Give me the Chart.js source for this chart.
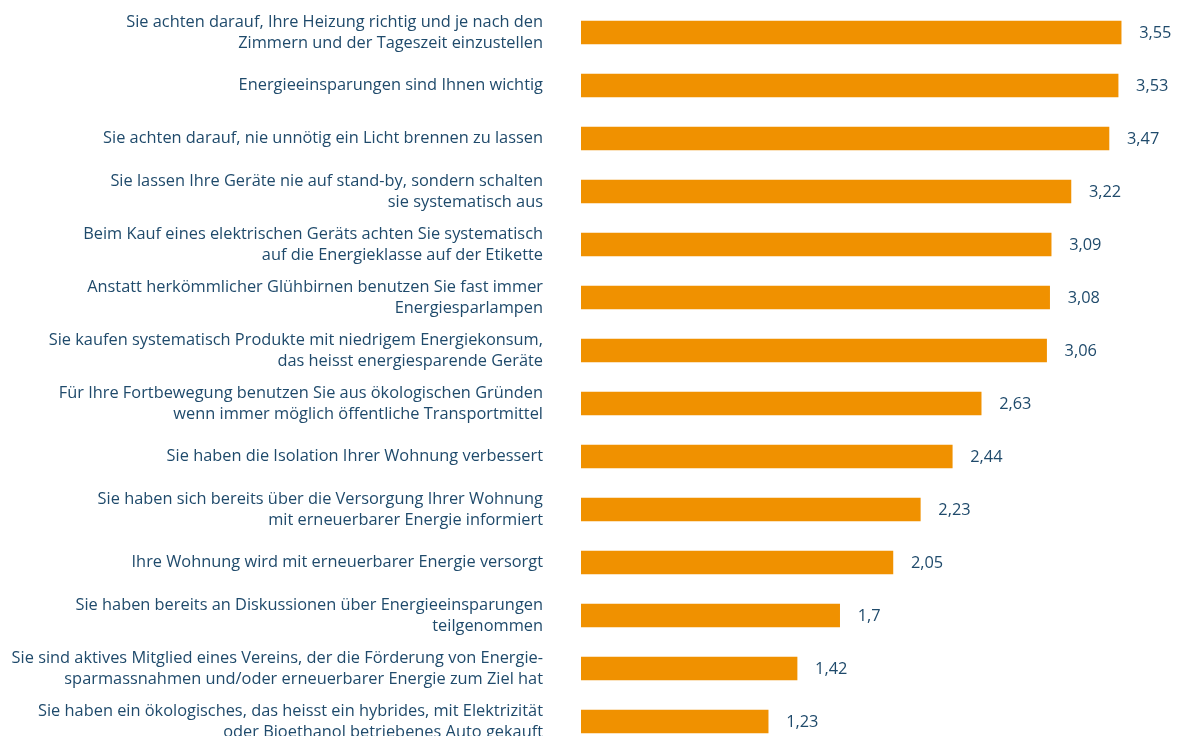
<!DOCTYPE html>
<html><head><meta charset="utf-8">
<script src="https://cdn.jsdelivr.net/npm/chart.js@4/dist/chart.umd.min.js"></script>
<style>html,body{margin:0;padding:0;overflow:hidden;background:#fff;width:1186px;height:736px}#wrap{position:relative;width:1186px;height:750px}</style>
</head><body><div id="wrap"><canvas id="c"></canvas></div>
<script>
const categories = [
  ["Sie achten darauf, Ihre Heizung richtig und je nach den","Zimmern und der Tageszeit einzustellen"],
  ["Energieeinsparungen sind Ihnen wichtig"],
  ["Sie achten darauf, nie unnötig ein Licht brennen zu lassen"],
  ["Sie lassen Ihre Geräte nie auf stand-by, sondern schalten","sie systematisch aus"],
  ["Beim Kauf eines elektrischen Geräts achten Sie systematisch","auf die Energieklasse auf der Etikette"],
  ["Anstatt herkömmlicher Glühbirnen benutzen Sie fast immer","Energiesparlampen"],
  ["Sie kaufen systematisch Produkte mit niedrigem Energiekonsum,","das heisst energiesparende Geräte"],
  ["Für Ihre Fortbewegung benutzen Sie aus ökologischen Gründen","wenn immer möglich öffentliche Transportmittel"],
  ["Sie haben die Isolation Ihrer Wohnung verbessert"],
  ["Sie haben sich bereits über die Versorgung Ihrer Wohnung","mit erneuerbarer Energie informiert"],
  ["Ihre Wohnung wird mit erneuerbarer Energie versorgt"],
  ["Sie haben bereits an Diskussionen über Energieeinsparungen","teilgenommen"],
  ["Sie sind aktives Mitglied eines Vereins, der die Förderung von Energie-","sparmassnahmen und/oder erneuerbarer Energie zum Ziel hat"],
  ["Sie haben ein ökologisches, das heisst ein hybrides, mit Elektrizität","oder Bioethanol betriebenes Auto gekauft"]
];
const values = [3.55, 3.53, 3.47, 3.22, 3.09, 3.08, 3.06, 2.63, 2.44, 2.23, 2.05, 1.7, 1.42, 1.23];
const valueLabels = ["3,55","3,53","3,47","3,22","3,09","3,08","3,06","2,63","2,44","2,23","2,05","1,7","1,42","1,23"];

const FAMILY = "'Open Sans', 'Noto Sans', sans-serif";
const TEXT = '#1f4a6b';
const mc = document.createElement('canvas').getContext('2d');
mc.font = '15px ' + FAMILY;
const w = mc.measureText(categories[0][0]).width;
const FS = Math.max(12, Math.min(17, 15 * 417 / w));

const valuePlugin = {
  id: 'valueLabels',
  afterDatasetsDraw(chart) {
    const ctx = chart.ctx;
    const meta = chart.getDatasetMeta(0);
    ctx.save();
    ctx.font = FS + 'px ' + FAMILY;
    ctx.fillStyle = TEXT;
    ctx.textAlign = 'left';
    ctx.textBaseline = 'middle';
    meta.data.forEach((bar, i) => {
      ctx.fillText(valueLabels[i], bar.x + 18, bar.y + 1);
    });
    ctx.restore();
  }
};

new Chart(document.getElementById('c'), {
  type: 'bar',
  data: {
    labels: categories,
    datasets: [{ data: values, backgroundColor: '#f09100', borderWidth: 0, barThickness: 23 }]
  },
  options: {
    indexAxis: 'y',
    responsive: true,
    maintainAspectRatio: false,
    animation: false,
    layout: { padding: { top: 6, bottom: 2, left: 0, right: 4 } },
    plugins: { legend: { display: false }, tooltip: { enabled: false } },
    scales: {
      x: { display: false, min: 0, max: 3.95 },
      y: {
        grid: { display: false, drawTicks: false },
        border: { display: false },
        ticks: { color: TEXT, font: { family: FAMILY, size: FS, lineHeight: 1.3 }, padding: 38, autoSkip: false },
        afterFit(axis) { axis.width = 581; axis.paddingTop = 0; axis.paddingBottom = 0; }
      }
    }
  },
  plugins: [valuePlugin]
});
</script></body></html>
